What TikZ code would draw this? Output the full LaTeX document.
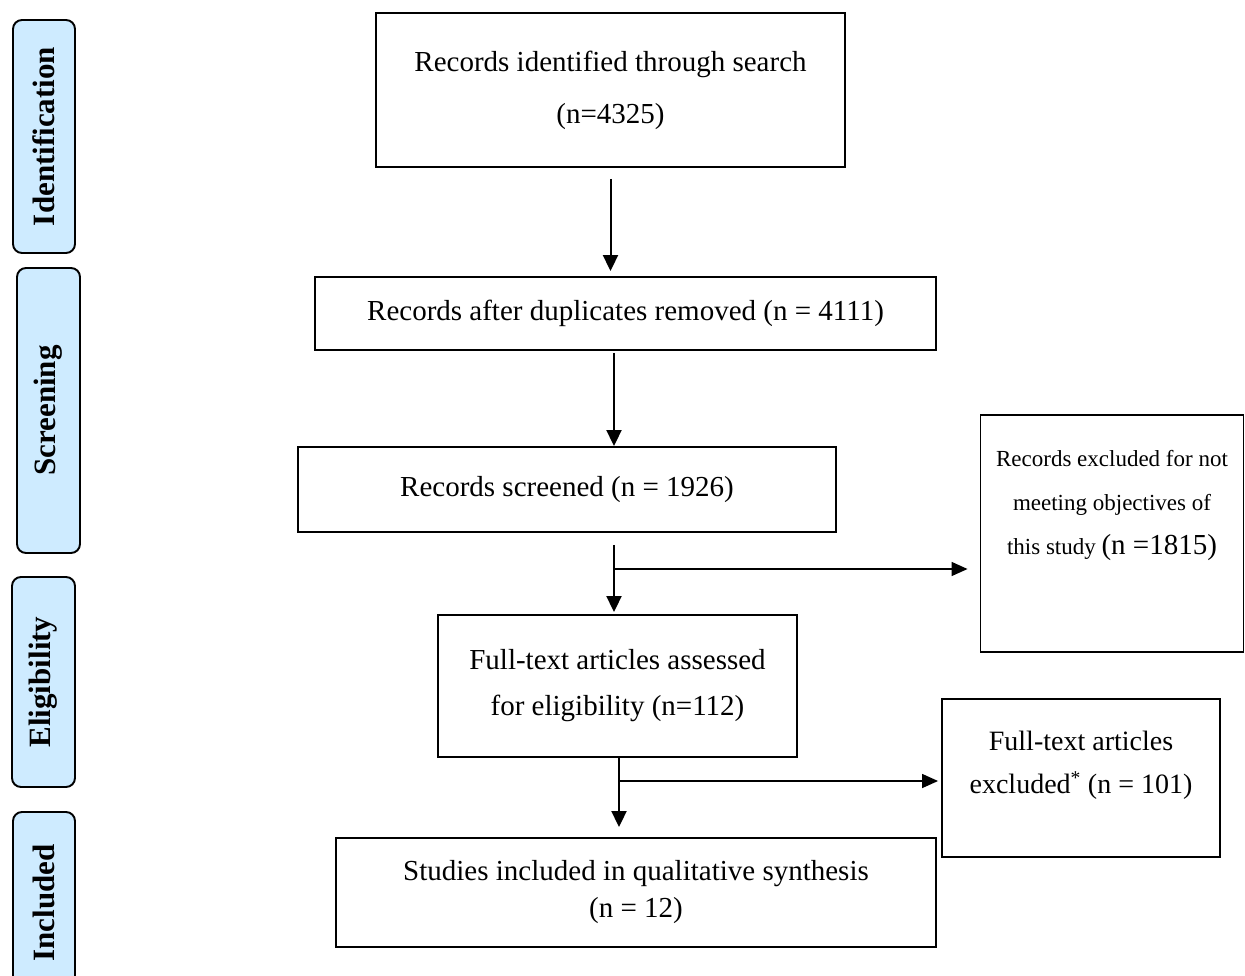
\documentclass[tikz,border=0pt]{standalone}
\usepackage{fontspec}
\setmainfont{Liberation Serif}
\usetikzlibrary{arrows.meta,positioning}
\definecolor{phaseblue}{RGB}{206,235,255}

\begin{document}
\begin{tikzpicture}[
  x=1pt,y=-1pt,
  box/.style={draw,line width=1.9pt,align=center,inner sep=0pt,font=\fontsize{29}{52}\selectfont},
  phase/.style={draw,line width=1.9pt,rounded corners=9pt,fill=phaseblue,rotate=90,inner sep=0pt,font=\fontsize{31}{34}\selectfont\bfseries},
  flow/.style={-{Triangle[length=16pt,width=15pt]},line width=2pt},
  branch/.style={-{Triangle[length=16pt,width=14pt]},line width=1.5pt}
]
  \useasboundingbox (0,0) rectangle (1245,976);
  % phases on the left
  \node[phase,minimum width=233,minimum height=62] (idph) at (44,136.5) {Identification};
  \node[phase,minimum width=285,minimum height=63] (scph) at (48.5,410.5) {Screening};
  \node[phase,minimum width=210,minimum height=63] (elph) at (43.5,682) {Eligibility};
  \begin{scope}
    \clip (0,0) rectangle (1245,976);
    \node[phase,minimum width=182,minimum height=62] (inph) at (44,903) {Included};
  \end{scope}

  % main flow
  \node[box,minimum width=469,minimum height=154] (ident) at (610.5,90) {Records identified through search\\(n=4325)};
  \node[box,minimum width=621,minimum height=73] (dupl) at (625.5,313.5) {Records after duplicates removed (n = 4111)};
  \node[box,minimum width=538,minimum height=85] (screen) at (567,489.5) {Records screened (n = 1926)};
  \node[box,minimum width=359,minimum height=142,font=\fontsize{29}{46}\selectfont] (full) at (617.5,686) {Full-text articles assessed\\for eligibility (n=112)};
  \node[box,minimum width=600,minimum height=109,font=\fontsize{29}{37}\selectfont] (incl) at (636,892.5) {Studies included in qualitative synthesis\\(n = 12)};

  % exclusions
  \node[box,minimum width=263,minimum height=237] (excl) at (1112,533.5) {};
  \node[align=center,font=\fontsize{23}{44}\selectfont] (excltext) at ([yshift=28pt]excl.center)
    {Records excluded for not\\meeting objectives of\\this study {\fontsize{29}{44}\selectfont(n =1815)}};
  \node[box,minimum width=278,minimum height=158] (ftexcl) at (1081,778) {};
  \node[align=center,font=\fontsize{28}{43}\selectfont] (ftexcltext) at ([yshift=13pt]ftexcl.center)
    {Full-text articles\\excluded\textsuperscript{*} (n = 101)};

  % connectors
  \coordinate (br1) at (614,569);
  \coordinate (br2) at (619,781);
  \draw[flow] ([yshift=-11pt]ident.south) -- ([yshift=5pt]ident.south |- dupl.north);
  \draw[flow] ([xshift=-11.5pt,yshift=-2pt]dupl.south) -- ([xshift=-11.5pt]dupl.south |- screen.north);
  \draw[flow] ([yshift=-12pt]screen.south -| br1) -- ([yshift=2pt]full.north -| br1);
  \draw[branch] (br1) -- ([xshift=-12pt]excl.west |- br1);
  \draw[flow] (full.south -| br2) -- ([yshift=10pt]incl.north -| br2);
  \draw[branch] (br2) -- ([xshift=-3pt]ftexcl.west |- br2);
\end{tikzpicture}
\end{document}
